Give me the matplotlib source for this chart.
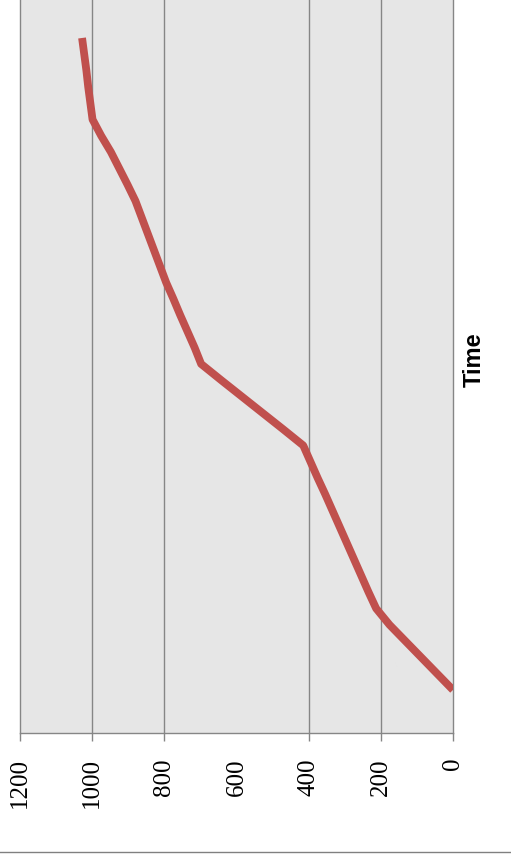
import matplotlib
matplotlib.use("Agg")
import matplotlib.pyplot as plt
from matplotlib.lines import Line2D
from matplotlib import font_manager

# Cumulative total over time (one reading per time step)
time_steps = list(range(41))
totals = [0, 44, 88, 132, 176, 213, 234, 254, 274, 294,
          314, 334, 354, 375, 395, 415, 471, 528, 585, 642,
          698, 716, 736, 756, 775, 795, 812, 829, 846, 863,
          880, 902, 925, 948, 975, 999, 1005, 1011, 1016, 1022,
          1028]
value_ticks = [0, 200, 400, 600, 800, 1000, 1200]
value_tick_labels = ["0", "200", "400", "600", "800", "1000", "1200"]
gridded_values = [200, 400, 800, 1000]

serif_name = "DejaVu Serif"
for f in font_manager.fontManager.ttflist:
    if f.name == "Liberation Serif":
        serif_name = "Liberation Serif"
        break

W, H = 511, 858
fig = plt.figure(figsize=(W / 100, H / 100), dpi=100)
fig.patch.set_facecolor("white")

left, right = 20 / W, 453 / W
bottom, top = 1 - 733 / H, 1.0
ax = fig.add_axes([left, bottom, right - left, top - bottom])
ax.set_facecolor("#e6e6e6")

grid_color = "#868686"
for v in gridded_values:
    ax.axvline(v, color=grid_color, lw=1.0, zorder=1)

ax.plot(totals, time_steps, color="#c0504d", lw=5.6,
        solid_capstyle="butt", solid_joinstyle="round", zorder=3)

ax.set_xlim(1200, 0)
ax.set_ylim(-2.64, 42.33)

ax.set_xticks(value_ticks)
ax.set_xticklabels(value_tick_labels)
ax.tick_params(axis="x", direction="out", length=6, width=1.0,
               color=grid_color, pad=12)
for lab in ax.get_xticklabels():
    lab.set_fontproperties(font_manager.FontProperties(family=serif_name, size=18))
    lab.set_rotation(90)
    lab.set_va("top")
    lab.set_ha("center")
for t, v in zip(ax.xaxis.get_major_ticks(), value_ticks):
    if v == 600:
        t.tick1line.set_visible(False)
ax.set_yticks([])

for side in ("left", "right", "bottom"):
    ax.spines[side].set_color(grid_color)
    ax.spines[side].set_linewidth(1.0)
ax.spines["top"].set_visible(False)

fig.text(474 / W, 1 - 360 / H, "Time", rotation=90, ha="center", va="center",
         family=["Liberation Sans", "DejaVu Sans"], fontweight="bold", fontsize=17)

fig.add_artist(Line2D([0, 1], [1 - 852 / H, 1 - 852 / H],
                      transform=fig.transFigure, color="#808080", lw=1.0))

fig.savefig("out.png", dpi=100)
